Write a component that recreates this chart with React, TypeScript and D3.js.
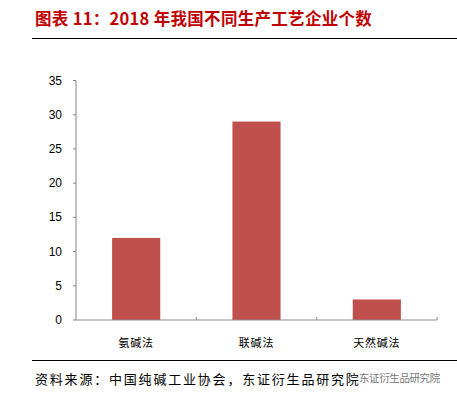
import React from "react";
import * as d3 from "d3";

const categories = ["氨碱法", "联碱法", "天然碱法"];
const values = [12, 29, 3];
const yTicks = [0, 5, 10, 15, 20, 25, 30, 35];
const titleText = "图表 11：2018 年我国不同生产工艺企业个数";
const sourceText = "资料来源：中国纯碱工业协会，东证衍生品研究院";
const watermark = "东证衍生品研究院";

export default function App() {
  const W = 457, H = 398;
  const x0 = 76, x1 = 437, yTop = 80.5, yBot = 320;
  const x = d3.scaleBand<string>().domain(categories).range([x0, x1]).paddingInner(0.6).paddingOuter(0.3);
  const xOuter = d3.scaleBand<string>().domain(categories).range([x0, x1]);
  const y = d3.scaleLinear().domain([0, 35]).range([yBot, yTop]);
  const cjk = "'Noto Sans CJK SC', 'Noto Sans CJK JP', sans-serif";
  return (
    <svg width={W} height={H} style={{ position: "absolute", left: 0, top: 0, background: "#fff" }}>
      <text x={35} y={25} fill="#C00000" fontFamily={cjk} fontWeight="bold" fontSize={16.5} letterSpacing={0.3}>{titleText}</text>
      <line x1={32} x2={457} y1={38.5} y2={38.5} stroke="#000" strokeWidth={1} />
      {yTicks.map(t => (
        <g key={t}>
          <line x1={x0 - 3} x2={x0} y1={y(t)} y2={y(t)} stroke="#888" />
          <text x={62} y={y(t) + 4} textAnchor="end" fontFamily="'Liberation Sans', Arial, sans-serif" fontSize={12} fill="#000">{t}</text>
        </g>
      ))}
      {categories.map((c, i) => (
        <rect key={c} x={x(c)} y={y(values[i])} width={x.bandwidth()} height={yBot - y(values[i])} fill="#C0504D" />
      ))}
      <line x1={x0} x2={x0} y1={yTop} y2={yBot} stroke="#888" />
      <line x1={x0} x2={x1} y1={yBot} y2={yBot} stroke="#888" />
      {categories.map(c => (
        <line key={"t" + c} x1={(xOuter(c) ?? 0) + xOuter.bandwidth()} x2={(xOuter(c) ?? 0) + xOuter.bandwidth()} y1={yBot - 3} y2={yBot} stroke="#888" />
      ))}
      {categories.map(c => (
        <text key={"l" + c} x={(xOuter(c) ?? 0) + xOuter.bandwidth() / 2} y={347} textAnchor="middle" fontFamily={cjk} fontSize={11} fill="#000" letterSpacing={0.8}>{c}</text>
      ))}
      <line x1={32} x2={457} y1={360.5} y2={360.5} stroke="#000" strokeWidth={1} />
      <text x={35} y={384} fontFamily={cjk} fontSize={13} fill="#000" letterSpacing={1.8}>{sourceText}</text>
      <text x={359} y={382} fontFamily={cjk} fontSize={10.5} fill="#777" letterSpacing={-0.4}>{watermark}</text>
    </svg>
  );
}
